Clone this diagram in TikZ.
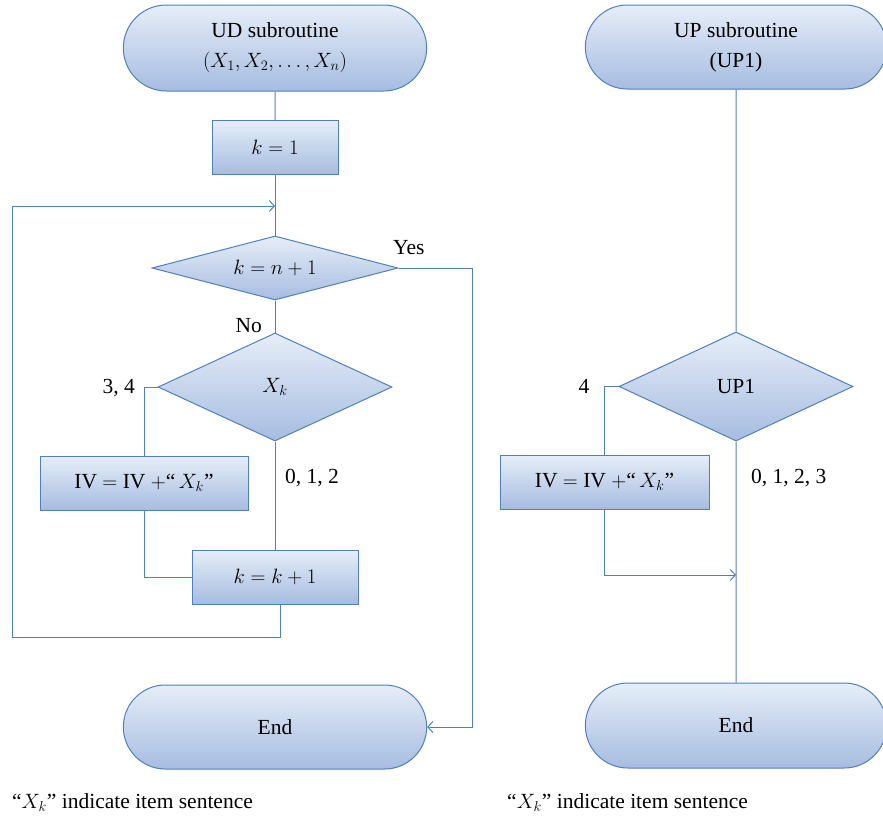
\documentclass[tikz,border=0pt]{standalone}
\usepackage{fontspec}
\setmainfont{Liberation Serif}
\usetikzlibrary{shapes.geometric,shapes.misc,arrows.meta}
\definecolor{edgeblue}{HTML}{4F7FBF}
\definecolor{filltop}{HTML}{E6EEF8}
\definecolor{fillbot}{HTML}{A6BCE0}
\tikzset{
  shadedshape/.style={draw=edgeblue, line width=1pt, top color=filltop, bottom color=fillbot, text=black},
  terminal/.style={shadedshape, rounded rectangle, minimum height=86pt, align=center,
    font=\fontsize{21.5}{30}\selectfont},
  procbox/.style={shadedshape, rectangle, minimum height=54pt, inner sep=0pt},
  decision/.style={shadedshape, diamond, inner sep=0pt},
  flow/.style={draw=edgeblue, line width=1pt},
  arr/.style={flow, -{Straight Barb[length=5pt,width=11pt,line width=1pt]}},
  lbl/.style={text=black, inner sep=0pt}
}
\begin{document}
\begin{tikzpicture}[x=1pt, y=-1pt, font=\fontsize{21.5}{26}\selectfont]
\useasboundingbox (0,0) rectangle (883,817);
\clip (0,0) rectangle (883,817);

% ---------- UD subroutine ----------
\node[terminal, minimum width=310pt] (s1) at (275,48) {UD subroutine\\$(X_1, X_2, \ldots, X_n)$};
\node[procbox, minimum width=126pt] (k1) at (275,147.5) {$k = 1$};
\coordinate (jn) at (275,206);
\node[decision, aspect=3.84, minimum width=246pt, minimum height=64pt] (d1) at (275,268) {$k = n + 1$};
\node[decision, aspect=2.17, minimum width=234pt, minimum height=108pt] (d2) at (275,387) {$X_k$};
\node[procbox, minimum width=208pt] (iv1) at (144,483) {IV $=$ IV $+$“\,$X_k$”};
\node[procbox, minimum width=166pt] (kk) at (275,577) {$k = k + 1$};
\node[terminal, minimum width=310pt, minimum height=84pt] (e1) at (275,727) {End};
\coordinate (loopc) at (12,637);
\coordinate (yesr) at (472,268);

\draw[flow] (s1) -- (k1);
\draw[flow] (k1) -- (d1);
\draw[flow] (d1) -- (d2);
\draw[flow] (d2.west) -| (iv1.north);
\draw[flow] (iv1.south) |- (kk.west);
\draw[flow] (d2) -- (kk);
\draw[arr] ([xshift=5pt]kk.south) |- (loopc) |- (jn);
\draw[arr] (d1.east) -- (yesr) |- (e1.east);

\node[lbl, anchor=west] (yes) at (393,248) {Yes};
\node[lbl, anchor=east] (no) at (262,326) {No};
\node[lbl, anchor=east] (c34) at (135,388) {3, 4};
\node[lbl, anchor=west] (c012) at (285,478) {0, 1, 2};
\node[lbl, anchor=base west] (cap1) at (12,808) {“$X_k$” indicate item sentence};

% ---------- UP subroutine ----------
\node[terminal, minimum width=308pt, minimum height=84pt] (s2) at (736,47) {UP subroutine\\(UP1)};
\node[decision, aspect=2.15, minimum width=234pt, minimum height=109pt] (d3) at (736,386.5) {UP1};
\node[procbox, minimum width=209pt] (iv2) at (604.5,482) {IV $=$ IV $+$“\,$X_k$”};
\node[terminal, minimum width=308pt, minimum height=85pt] (e2) at (736,725.5) {End};
\coordinate (mrg) at (736,575);

\draw[flow] (s2) -- (d3);
\draw[flow] (d3.west) -| (iv2.north);
\draw[arr] (iv2.south) |- (mrg);
\draw[flow] (d3) -- (e2);

\node[lbl] (c4) at (584,386) {4};
\node[lbl, anchor=west] (c0123) at (751,478) {0, 1, 2, 3};
\node[lbl, anchor=base west] (cap2) at (507,808) {“$X_k$” indicate item sentence};
\end{tikzpicture}
\end{document}
